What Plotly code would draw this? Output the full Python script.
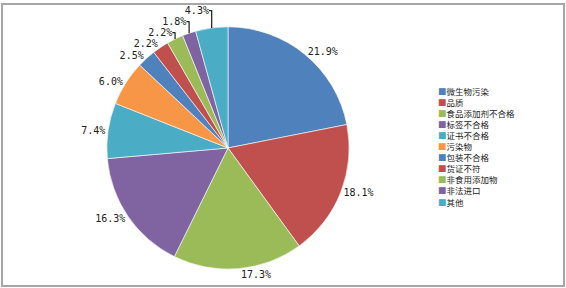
import plotly.graph_objects as go

categories = ["微生物污染", "品质", "食品添加剂不合格", "标签不合格", "证书不合格", "污染物",
              "包装不合格", "货证不符", "非食用添加物", "非法进口", "其他"]
values = [21.9, 18.1, 17.3, 16.3, 7.4, 6.0, 2.5, 2.2, 2.2, 1.8, 4.3]
colors = ["#4F81BD", "#C0504D", "#9BBB59", "#8064A2", "#4BACC6", "#F79646",
          "#4F81BD", "#C0504D", "#9BBB59", "#8064A2", "#4BACC6"]

W, H = 566, 288
cx, cy, r = 228, 147, 122

fig = go.Figure()
fig.add_trace(go.Pie(
    labels=categories,
    values=values,
    sort=False,
    direction="clockwise",
    rotation=0,
    marker=dict(colors=colors, line=dict(color="rgba(255,255,255,0.6)", width=1)),
    texttemplate="%{value:.1f}%",
    textposition="outside",
    textfont=dict(family="DejaVu Sans Mono", size=10, color="#222222"),
    domain=dict(x=[(cx - r) / W, (cx + r) / W], y=[(H - cy - r) / H, (H - cy + r) / H]),
    showlegend=False,
    hoverinfo="label+percent",
))

# custom compact legend as one multi-line text
legend_text = "<br>".join(
    f'<span style="color:{col}">■</span>{c}' for c, col in zip(categories, colors)
)
fig.add_annotation(
    x=436 / W, y=1 - 82 / H, xref="paper", yref="paper",
    xanchor="left", yanchor="top", align="left", showarrow=False,
    text=legend_text,
    font=dict(family="Noto Sans CJK SC", size=8.5, color="#222222"),
)

fig.add_shape(type="rect", xref="paper", yref="paper",
              x0=2 / W, x1=564 / W, y0=1 - 286 / H, y1=1 - 2 / H,
              line=dict(color="#A6A6A6", width=2))

fig.update_layout(
    width=W, height=H,
    margin=dict(l=0, r=0, t=0, b=0),
    paper_bgcolor="white", plot_bgcolor="white",
)
fig.write_html("out.html")
